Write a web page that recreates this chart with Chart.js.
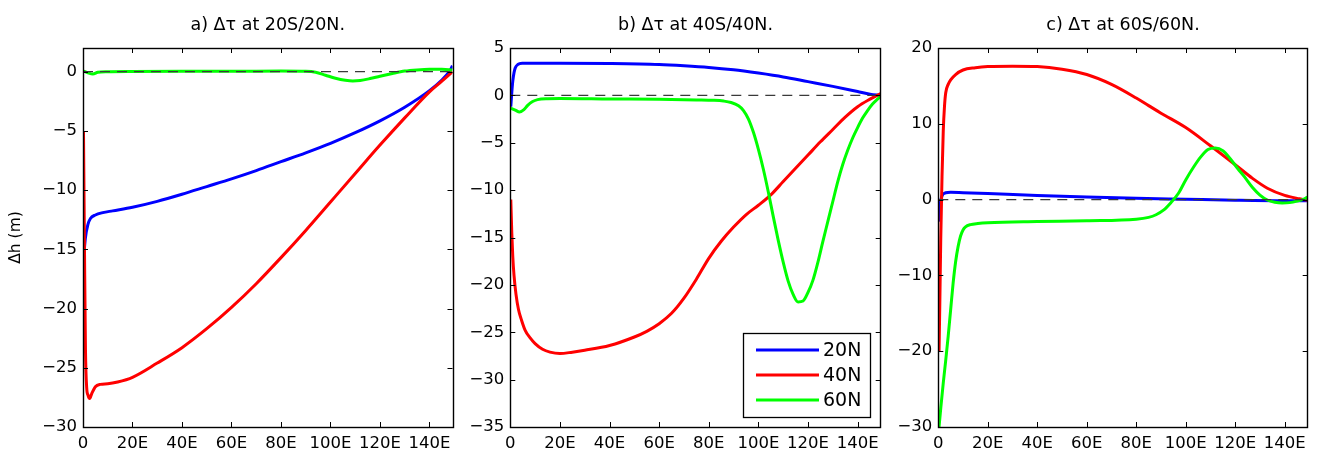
<!DOCTYPE html>
<html><head><meta charset="utf-8">
<script src="https://cdn.jsdelivr.net/npm/chart.js@4"></script>
<style>
html,body{margin:0;padding:0;background:#fff;width:1317px;height:457px;overflow:hidden;}
canvas{position:absolute;top:0;}
</style></head><body>
<canvas id="ca" width="463" height="457" style="left:0px;width:463px;height:457px"></canvas>
<canvas id="cb" width="427" height="457" style="left:463px;width:427px;height:457px"></canvas>
<canvas id="cc" width="427" height="457" style="left:890px;width:427px;height:457px"></canvas>
<script>
// ---------- axis ticks ----------
const xTicks = [0, 20, 40, 60, 80, 100, 120, 140];
const xTickLabels = ['0', '20E', '40E', '60E', '80E', '100E', '120E', '140E'];
const xMin = 0, xMax = 149.3;
const yTicksA = [-30, -25, -20, -15, -10, -5, 0];
const yTicksB = [-35, -30, -25, -20, -15, -10, -5, 0, 5];
const yTicksC = [-30, -20, -10, 0, 10, 20];
const zeroX = [0, 149.3];
const seriesNames = ['20N', '40N', '60N'];
const titles = ['a) \u0394\u03c4 at 20S/20N.', 'b) \u0394\u03c4 at 40S/40N.', 'c) \u0394\u03c4 at 60S/60N.'];

// ---------- panel a ----------
const a20x = [0.2, 0.5, 1, 2, 3, 5, 8, 12, 20, 30, 40, 50, 60, 70, 80, 90, 100, 110, 120, 130, 140, 145, 148, 149.3];
const a20y = [-17.6, -15.3, -14.0, -12.9, -12.4, -12.1, -11.9, -11.75, -11.45, -10.95, -10.35, -9.7, -9.05, -8.35, -7.6, -6.85, -6.05, -5.15, -4.15, -3.0, -1.6, -0.7, 0.0, 0.5];
const a40x = [0.2, 0.6, 1.0, 1.5, 2.0, 2.7, 3.5, 5, 7, 10, 14, 20, 30, 40, 50, 60, 70, 80, 90, 100, 110, 120, 130, 140, 145, 149.3];
const a40y = [-5.1, -15, -23.5, -26.7, -27.3, -27.6, -27.2, -26.6, -26.4, -26.35, -26.2, -25.8, -24.6, -23.3, -21.7, -19.9, -17.9, -15.7, -13.4, -11.0, -8.6, -6.2, -3.9, -1.7, -0.8, 0.0];
const a60x = [0.2, 2, 4, 6, 10, 20, 40, 60, 80, 90, 94, 98, 102, 106, 109, 112, 116, 120, 125, 130, 135, 140, 145, 149.3];
const a60y = [0.05, -0.1, -0.2, -0.05, 0.0, 0.02, 0.03, 0.03, 0.05, 0.03, -0.05, -0.3, -0.55, -0.72, -0.78, -0.74, -0.58, -0.38, -0.15, 0.05, 0.15, 0.2, 0.2, 0.15];

// ---------- panel b ----------
const b20x = [0.2, 0.6, 1, 1.5, 2, 3, 5, 10, 20, 40, 60, 70, 80, 90, 100, 110, 120, 130, 140, 145, 149.3];
const b20y = [-1.2, 0.3, 1.5, 2.4, 2.9, 3.25, 3.38, 3.4, 3.4, 3.36, 3.25, 3.12, 2.95, 2.7, 2.35, 1.95, 1.45, 0.95, 0.4, 0.12, 0];
const b40x = [0.2, 0.6, 1, 1.5, 2.3, 3.3, 4.5, 6, 8, 10, 13, 16, 20, 25, 30, 40, 50, 55, 60, 65, 70, 75, 80, 85, 90, 95, 100, 105, 110, 115, 120, 125, 130, 135, 140, 145, 149.3];
const b40y = [-11, -14.5, -17, -19, -21, -22.6, -23.7, -24.8, -25.6, -26.2, -26.8, -27.1, -27.25, -27.1, -26.9, -26.4, -25.5, -24.9, -24.1, -23.0, -21.4, -19.4, -17.2, -15.4, -13.9, -12.6, -11.6, -10.5, -9.1, -7.7, -6.3, -4.9, -3.6, -2.3, -1.2, -0.4, 0.2];
const b60x = [0.2, 2, 3.7, 5.5, 7, 9, 11, 15, 20, 40, 60, 75, 82, 86, 89, 92, 94, 96, 98, 100, 102, 104, 106, 108, 110, 112, 114, 116, 118, 120, 122, 124, 126, 128, 130, 132, 134, 136, 138, 140, 142, 144, 146, 148, 149.3];
const b60y = [-1.35, -1.55, -1.75, -1.5, -1.05, -0.65, -0.45, -0.35, -0.33, -0.38, -0.42, -0.48, -0.52, -0.6, -0.75, -1.1, -1.6, -2.5, -3.9, -5.7, -7.8, -10.2, -12.8, -15.3, -17.6, -19.6, -21.0, -21.8, -21.7, -20.8, -19.5, -17.6, -15.4, -13.3, -11.2, -9.1, -7.3, -5.8, -4.5, -3.4, -2.4, -1.6, -0.9, -0.4, -0.1];

// ---------- panel c ----------
const c20x = [0.2, 0.8, 1.5, 3, 5, 10, 20, 40, 60, 80, 100, 120, 140, 149.3];
const c20y = [-2.9, -0.5, 0.5, 0.9, 0.98, 0.92, 0.8, 0.55, 0.35, 0.18, 0.05, -0.08, -0.15, -0.15];
const c40x = [0.3, 0.6, 1, 1.5, 2, 2.5, 3, 4, 5, 7, 10, 15, 20, 30, 40, 50, 60, 70, 80, 85, 90, 100, 110, 120, 127, 133, 140, 146, 149.3];
const c40y = [-20, -14, -5, 3, 9, 12.3, 14.1, 15.2, 15.8, 16.5, 17.1, 17.4, 17.55, 17.6, 17.55, 17.2, 16.5, 15.2, 13.4, 12.4, 11.4, 9.5, 7.1, 4.6, 2.8, 1.5, 0.55, 0.1, -0.1];
const c60x = [0.3, 1, 2, 3, 4, 5, 6, 7, 8, 9, 10, 11, 13, 16, 20, 40, 60, 80, 85, 88, 91, 94, 97, 100, 103, 106, 109, 112, 115, 118, 121, 124, 127, 130, 133, 136, 139, 142, 145, 148, 149.3];
const c60y = [-30, -27.5, -24.2, -21.2, -18, -14.5, -11, -8.2, -6.2, -4.8, -4, -3.6, -3.3, -3.15, -3.05, -2.9, -2.8, -2.6, -2.35, -2.0, -1.4, -0.4, 0.8, 2.6, 4.2, 5.6, 6.6, 6.8, 6.45, 5.4, 4.1, 2.9, 1.6, 0.6, -0.05, -0.35, -0.45, -0.4, -0.2, 0.1, 0.35];

// ---------- rendering ----------
Chart.defaults.font.family = "'DejaVu Sans', sans-serif";
Chart.defaults.color = '#000';
const colors = ['#0000ff', '#ff0000', '#00ff00'];
const FONT = "'DejaVu Sans', sans-serif";

const pts = (xs, ys) => xs.map((x, i) => ({x: x, y: ys[i]}));
const fmtY = v => v < 0 ? '\u2212' + Math.abs(v) : String(v);

const framePlugin = {
  id: 'frame',
  afterDraw(chart) {
    const {ctx, chartArea: a, scales: {x, y}} = chart;
    ctx.save();
    ctx.strokeStyle = '#000';
    ctx.lineWidth = 1;
    ctx.beginPath();
    const L = 5;
    x.ticks.forEach(t => {
      const px = Math.round(x.getPixelForValue(t.value)) + 0.5;
      ctx.moveTo(px, a.bottom); ctx.lineTo(px, a.bottom - L);
      ctx.moveTo(px, a.top); ctx.lineTo(px, a.top + L);
    });
    y.ticks.forEach(t => {
      const py = Math.round(y.getPixelForValue(t.value)) + 0.5;
      ctx.moveTo(a.left, py); ctx.lineTo(a.left + L, py);
      ctx.moveTo(a.right, py); ctx.lineTo(a.right - L, py);
    });
    ctx.stroke();
    ctx.lineWidth = 1.4;
    ctx.strokeRect(Math.round(a.left) + 0.5, Math.round(a.top) + 0.5, Math.round(a.right - a.left), Math.round(a.bottom - a.top));
    ctx.restore();
  }
};

const boxLegendPlugin = {
  id: 'boxLegend',
  afterDraw(chart, args, opts) {
    if (!opts || !opts.show) return;
    const {ctx, chartArea: a} = chart;
    const w = 127, h = 84;
    const left = a.right - 10.7 - w, top = a.bottom - 10 - h;
    ctx.save();
    ctx.fillStyle = '#fff';
    ctx.fillRect(left, top, w, h);
    ctx.strokeStyle = '#000';
    ctx.lineWidth = 1.3;
    ctx.strokeRect(Math.round(left) + 0.5, Math.round(top) + 0.5, w, h);
    const ds = chart.data.datasets.filter(d => d.inLegend);
    ds.forEach((d, i) => {
      const yy = top + 17 + i * 25;
      ctx.strokeStyle = d.borderColor;
      ctx.lineWidth = 3;
      ctx.beginPath();
      ctx.moveTo(left + 13, yy); ctx.lineTo(left + 76, yy);
      ctx.stroke();
      ctx.fillStyle = '#000';
      ctx.font = "19px " + FONT;
      ctx.textBaseline = 'middle';
      ctx.textAlign = 'left';
      ctx.fillText(d.label, left + 80, yy + 1);
    });
    ctx.restore();
  }
};

function makeChart(id, title, sets, yMin, yMax, yTicks, yWidth, padRight, yTitle, legend) {
  const datasets = sets.map((s, i) => ({
    label: seriesNames[i],
    inLegend: true,
    data: pts(s[0], s[1]),
    borderColor: colors[i],
    backgroundColor: colors[i],
    borderWidth: 3,
    pointRadius: 0,
    fill: false,
    cubicInterpolationMode: 'monotone',
    order: 3 - i
  }));
  datasets.push({
    label: 'zero',
    inLegend: false,
    data: zeroX.map(x => ({x: x, y: 0})),
    borderColor: '#3a3a3a',
    borderWidth: 1.3,
    borderDash: [10, 7],
    pointRadius: 0,
    fill: false,
    order: 0
  });
  return new Chart(document.getElementById(id), {
    type: 'line',
    data: {datasets: datasets},
    plugins: [framePlugin, boxLegendPlugin],
    options: {
      responsive: false,
      animation: false,
      devicePixelRatio: 1,
      layout: {padding: {left: 0, right: padRight, top: 0, bottom: 0}},
      plugins: {
        legend: {display: false},
        tooltip: {enabled: false},
        title: {
          display: true, text: title, fullSize: false, color: '#000',
          font: {size: 17.5, weight: 'normal', family: FONT},
          padding: {top: 14.5, bottom: 12.5}
        },
        boxLegend: {show: legend}
      },
      scales: {
        x: {
          type: 'linear', min: xMin, max: xMax,
          grid: {display: false, drawTicks: false},
          border: {display: false},
          afterBuildTicks: s => { s.ticks = xTicks.map(v => ({value: v})); },
          afterFit: s => { s.height = 30; },
          ticks: {
            maxRotation: 0, autoSkip: false, padding: 7,
            font: {size: 16.5, family: FONT}, color: '#000',
            callback: (v) => xTickLabels[xTicks.indexOf(v)]
          }
        },
        y: {
          type: 'linear', min: yMin, max: yMax,
          grid: {display: false, drawTicks: false},
          border: {display: false},
          afterBuildTicks: s => { s.ticks = yTicks.map(v => ({value: v})); },
          afterFit: s => { s.width = yWidth; },
          title: {
            display: !!yTitle, text: yTitle || '', color: '#000',
            font: {size: 15.5, family: FONT}, padding: {top: 7, bottom: 0}
          },
          ticks: {
            padding: 6, autoSkip: false,
            font: {size: 16.5, family: FONT}, color: '#000',
            callback: fmtY
          }
        }
      }
    }
  });
}

makeChart('ca', titles[0], [[a20x, a20y], [a40x, a40y], [a60x, a60y]], -30, 2, yTicksA, 83, 10.5, '\u0394h (m)', false);
makeChart('cb', titles[1], [[b20x, b20y], [b40x, b40y], [b60x, b60y]], -35, 5, yTicksB, 47.3, 9.3, null, true);
makeChart('cc', titles[2], [[c20x, c20y], [c40x, c40y], [c60x, c60y]], -30, 20, yTicksC, 48.3, 9.3, null, false);
</script>
</body></html>
